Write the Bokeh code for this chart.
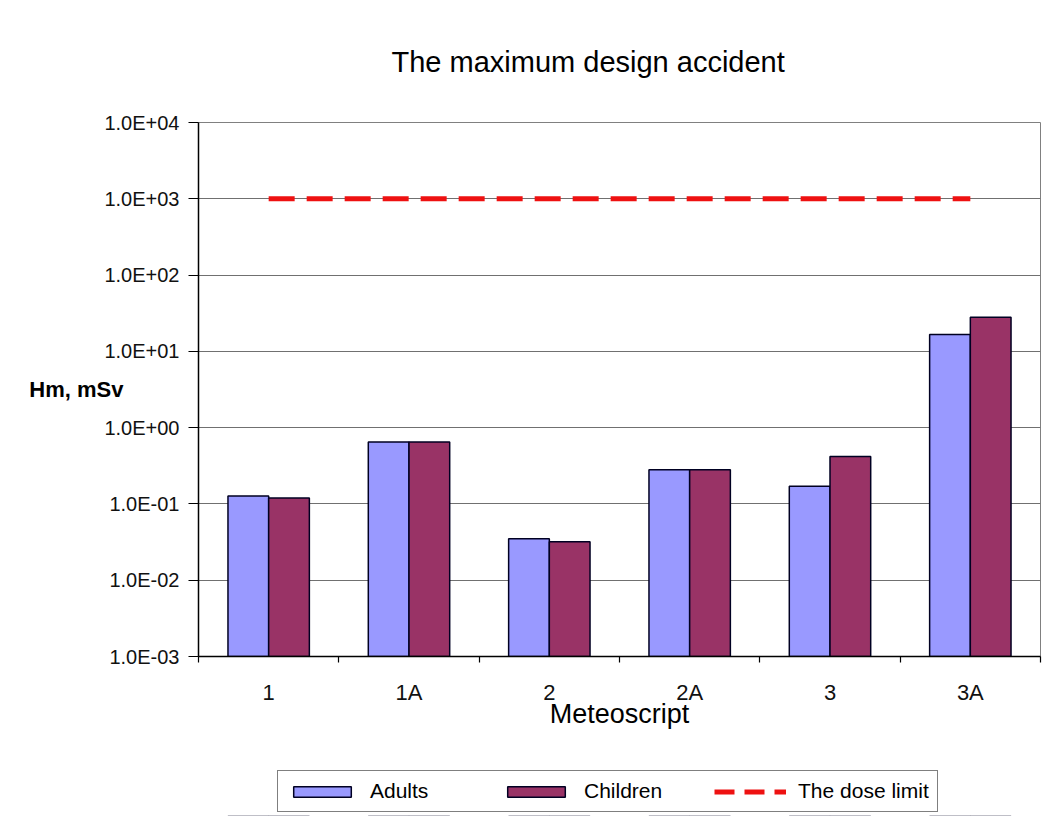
from bokeh.plotting import figure
from bokeh.layouts import column
from bokeh.models import (Range1d, FixedTicker, CustomJSTickFormatter, ColumnDataSource)
from bokeh.transform import dodge
from bokeh.embed import file_html
from bokeh.resources import INLINE

# ---- data ----
categories = ["1", "1A", "2", "2A", "3", "3A"]
adults = [0.127, 0.65, 0.035, 0.28, 0.17, 16.6]
children = [0.12, 0.65, 0.032, 0.28, 0.42, 28.0]
dose_limit = [1000, 1000, 1000, 1000, 1000, 1000]
y_ticks = [1e-3, 1e-2, 1e-1, 1e0, 1e1, 1e2, 1e3, 1e4]
y_tick_labels = ["1.0E-03", "1.0E-02", "1.0E-01", "1.0E+00",
                 "1.0E+01", "1.0E+02", "1.0E+03", "1.0E+04"]
series_names = ["Adults", "Children", "The dose limit"]
title_text = "The maximum design accident"
y_label = "Hm, mSv"
x_label = "Meteoscript"

FONT = "Liberation Sans"
ADULT_COLOR = "#9999FF"
CHILD_COLOR = "#993366"
LIMIT_COLOR = "#EE1111"
BAR_EDGE = "#000022"
n = len(categories)
bw = 0.29

# category slots on a numeric axis: slot i is centred at i + 0.5
src = ColumnDataSource(dict(cat=categories, pos=[i + 0.5 for i in range(n)],
                            adults=adults, children=children, limit=dose_limit))


def draw_series(fig, with_legend):
    kw = (lambda i: dict(legend_label=series_names[i])) if with_legend else (lambda i: {})
    fig.vbar(x=dodge("pos", -bw / 2), top="adults", bottom=y_ticks[0],
             width=bw, source=src, fill_color=ADULT_COLOR, line_color=BAR_EDGE,
             line_width=1.5, **kw(0))
    fig.vbar(x=dodge("pos", bw / 2), top="children", bottom=y_ticks[0],
             width=bw, source=src, fill_color=CHILD_COLOR, line_color=BAR_EDGE,
             line_width=1.5, **kw(1))
    fig.line(x="pos", y="limit", source=src, line_color=LIMIT_COLOR, line_width=5,
             line_dash="26 12" if not with_legend else "20 10", **kw(2))


p = figure(width=1044, height=760, x_range=Range1d(0, n),
           y_axis_type="log", y_range=(y_ticks[0], y_ticks[-1]),
           output_backend="svg", toolbar_location=None,
           min_border_left=198, min_border_top=122, min_border_bottom=104,
           min_border_right=4)
p.background_fill_color = "white"
p.border_fill_color = "white"
p.outline_line_color = "#808080"
p.outline_line_width = 1

# title
p.title.text = title_text
p.title.text_font = FONT
p.title.text_font_size = "29px"
p.title.text_font_style = "normal"
p.title.text_color = "black"
p.title.align = "left"
p.title.offset = 193
p.title.vertical_align = "top"
p.title.standoff = 86

draw_series(p, with_legend=False)

# y axis
ya = p.yaxis[0]
ya.ticker = FixedTicker(ticks=y_ticks, minor_ticks=[])
ya.formatter = CustomJSTickFormatter(args=dict(tvals=y_ticks, tlabels=y_tick_labels), code="""
let best = 0;
const lt = Math.log10(tick);
for (let i = 0; i < tvals.length; i++) {
  if (Math.abs(Math.log10(tvals[i]) - lt) < Math.abs(Math.log10(tvals[best]) - lt)) best = i;
}
return tlabels[best];
""")
ya.axis_line_color = "black"
ya.axis_line_width = 1.5
ya.major_tick_line_color = "black"
ya.major_tick_line_width = 1.2
ya.major_tick_out = 10
ya.major_tick_in = 0
ya.major_label_standoff = 9
ya.major_label_text_font = FONT
ya.major_label_text_font_size = "20px"
ya.major_label_text_color = "#111111"
ya.axis_label = y_label
ya.axis_label_text_font = FONT
ya.axis_label_text_font_size = "22px"
ya.axis_label_text_font_style = "bold"
ya.axis_label_text_color = "black"
ya.axis_label_standoff = -22
try:
    ya.axis_label_orientation = "horizontal"
except Exception:
    pass

p.ygrid.grid_line_color = "#707070"
p.ygrid.grid_line_width = 1
p.xgrid.grid_line_color = None

# x axis: category labels centred in each slot, tick marks at slot boundaries
xa = p.xaxis[0]
xa.ticker = FixedTicker(ticks=[i + 0.5 for i in range(n)],
                        minor_ticks=list(range(n + 1)))
xa.formatter = CustomJSTickFormatter(args=dict(cats=categories),
                                     code="return cats[Math.floor(tick)];")
xa.axis_line_color = "black"
xa.axis_line_width = 1.5
xa.major_tick_line_color = None
xa.major_tick_out = 0
xa.major_tick_in = 0
xa.minor_tick_line_color = "black"
xa.minor_tick_line_width = 1.2
xa.minor_tick_out = 6
xa.minor_tick_in = 0
xa.major_label_standoff = 17
xa.major_label_text_font = FONT
xa.major_label_text_font_size = "22px"
xa.major_label_text_color = "#111111"
xa.axis_label = x_label
xa.axis_label_text_font = FONT
xa.axis_label_text_font_size = "27px"
xa.axis_label_text_font_style = "normal"
xa.axis_label_text_color = "black"
xa.axis_label_standoff = -9

# ---- legend strip below the chart (same series, drawn outside its visible range) ----
leg = figure(width=1044, height=56, x_range=p.x_range, y_range=Range1d(2e4, 3e4),
             x_axis_location=None, y_axis_location=None,
             output_backend="svg", toolbar_location=None,
             min_border_left=198, min_border_right=4, min_border_top=0,
             min_border_bottom=0)
leg.outline_line_color = None
leg.grid.visible = False
leg.background_fill_color = "white"
leg.border_fill_color = "white"
draw_series(leg, with_legend=True)

lg = leg.legend[0]
lg.orientation = "horizontal"
lg.location = (79, 4)
lg.glyph_width = 72
lg.glyph_height = 13
lg.label_standoff = 12
lg.label_width = 85
lg.spacing = 45
lg.padding = 8
lg.margin = 0
lg.label_text_font = FONT
lg.label_text_font_size = "21px"
lg.label_text_color = "black"
lg.border_line_color = "black"
lg.border_line_width = 1.5
lg.background_fill_color = "white"
lg.background_fill_alpha = 1

layout = column(p, leg, spacing=0)
open("out.html", "w").write(file_html(layout, INLINE))
